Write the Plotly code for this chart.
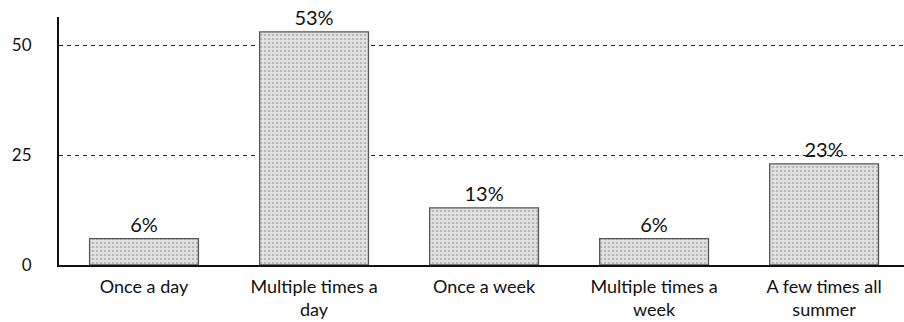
import plotly.graph_objects as go

categories = ["Once a day", "Multiple times a<br>day", "Once a week",
              "Multiple times a<br>week", "A few times all<br>summer"]
shares = [6, 53, 13, 6, 23]
labels = ["6%", "53%", "13%", "6%", "23%"]
y_ticks = [0, 25, 50]

fig = go.Figure(
    go.Bar(
        x=categories,
        y=shares,
        text=labels,
        textposition="outside",
        cliponaxis=False,
        textfont=dict(size=20, color="#111"),
        width=0.64,
        marker=dict(
            color="#dcdcdc",
            line=dict(color="#555", width=1.3),
            pattern=dict(shape=".", fgcolor="#8c8c8c", bgcolor="#e4e4e4",
                         size=4, solidity=0.35),
        ),
    )
)

fig.update_layout(
    width=904,
    height=322,
    margin=dict(l=59, r=0, t=17, b=57),
    paper_bgcolor="white",
    plot_bgcolor="white",
    font=dict(family="Lato", size=17, color="#111"),
    showlegend=False,
)

fig.update_xaxes(
    range=[-0.5, 4.47],
    automargin=False,
    showline=True, linecolor="#111", linewidth=2,
    ticks="outside", ticklen=4, tickcolor="rgba(0,0,0,0)",
    tickfont=dict(size=18),
    showgrid=False,
)
fig.update_yaxes(
    range=[0, 56.4],
    automargin=False,
    tickvals=y_ticks,
    showline=True, linecolor="#111", linewidth=2,
    ticks="", ticklabelstandoff=22,
    tickfont=dict(size=17),
    showgrid=True, gridcolor="#222", gridwidth=1, griddash="4px,4px",
    zeroline=False,
)

fig.write_html("out.html")
